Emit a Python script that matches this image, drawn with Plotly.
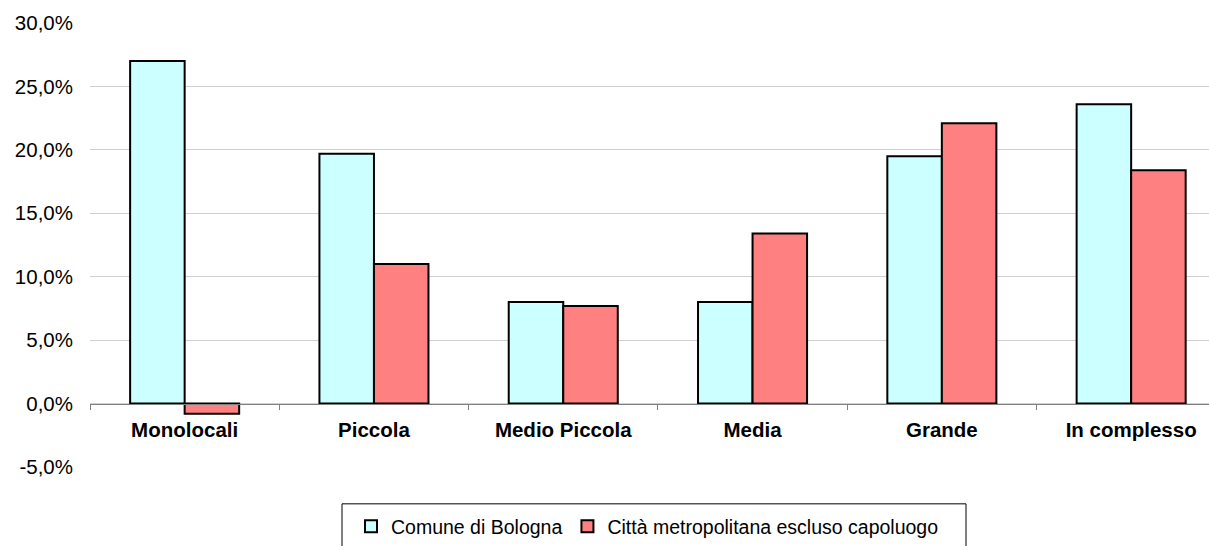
import plotly.graph_objects as go

# Housing size classes and percentage values for the two areas
categories = ["Monolocali", "Piccola", "Medio Piccola", "Media", "Grande", "In complesso"]
bologna = [27.0, 19.7, 8.0, 8.0, 19.5, 23.6]
citta_metro = [-0.8, 11.0, 7.7, 13.4, 22.1, 18.4]

series_names = ["Comune di Bologna", "Città metropolitana escluso capoluogo"]
y_tick_values = [-5, 0, 5, 10, 15, 20, 25, 30]
y_tick_labels = ["-5,0%", "0,0%", "5,0%", "10,0%", "15,0%", "20,0%", "25,0%", "30,0%"]

W, H = 1209, 546
ML, MR, MT, MB = 90, 0, 23, 77
plot_w = W - ML - MR
plot_h = H - MT - MB


def px_x(px):
    return (px - ML) / plot_w


def px_y(py):
    return (H - MB - py) / plot_h


fig = go.Figure()
fig.add_trace(go.Bar(
    x=categories, y=bologna, name=series_names[0],
    marker=dict(color="#CCFFFF", line=dict(color="black", width=2)),
))
fig.add_trace(go.Bar(
    x=categories, y=citta_metro, name=series_names[1],
    marker=dict(color="#FF8080", line=dict(color="black", width=2)),
))

# category width in px, plot continues slightly past the right edge
cat_px = 189.3
x_max = -0.5 + plot_w / cat_px

FONT = "Liberation Sans, Arial, sans-serif"

fig.update_layout(
    width=W, height=H,
    margin=dict(l=ML, r=MR, t=MT, b=MB),
    plot_bgcolor="white", paper_bgcolor="white",
    barmode="group", bargap=0.424, bargroupgap=0,
    font=dict(family=FONT, color="black"),
    xaxis=dict(
        type="category", range=[-0.5, x_max],
        anchor="free", position=1 / 7,
        showline=True, linecolor="#808080", linewidth=1,
        ticks="outside", tickson="boundaries", ticklen=5, tickcolor="#808080",
        showgrid=False,
        tickfont=dict(size=20.5, family=FONT, color="black", weight="bold"),
        ticklabelstandoff=8,
    ),
    yaxis=dict(
        range=[-5, 30],
        tickvals=y_tick_values, ticktext=y_tick_labels,
        showgrid=True, gridcolor="#D0D0D0", gridwidth=1,
        zeroline=False, showline=False, ticks="",
        tickfont=dict(size=20.5),
        ticklabelstandoff=16,
    ),
    showlegend=True,
    legend=dict(
        orientation="h",
        x=px_x(351), xanchor="left",
        y=px_y(529), yanchor="middle",
        font=dict(size=19.5),
        bgcolor="rgba(0,0,0,0)", borderwidth=0,
        itemwidth=30,
    ),
    shapes=[dict(
        type="rect", xref="paper", yref="paper",
        x0=px_x(342), x1=px_x(966), y0=px_y(506), y1=px_y(580),
        line=dict(color="black", width=1), fillcolor="rgba(0,0,0,0)",
    )],
)

fig.write_html("out.html")
